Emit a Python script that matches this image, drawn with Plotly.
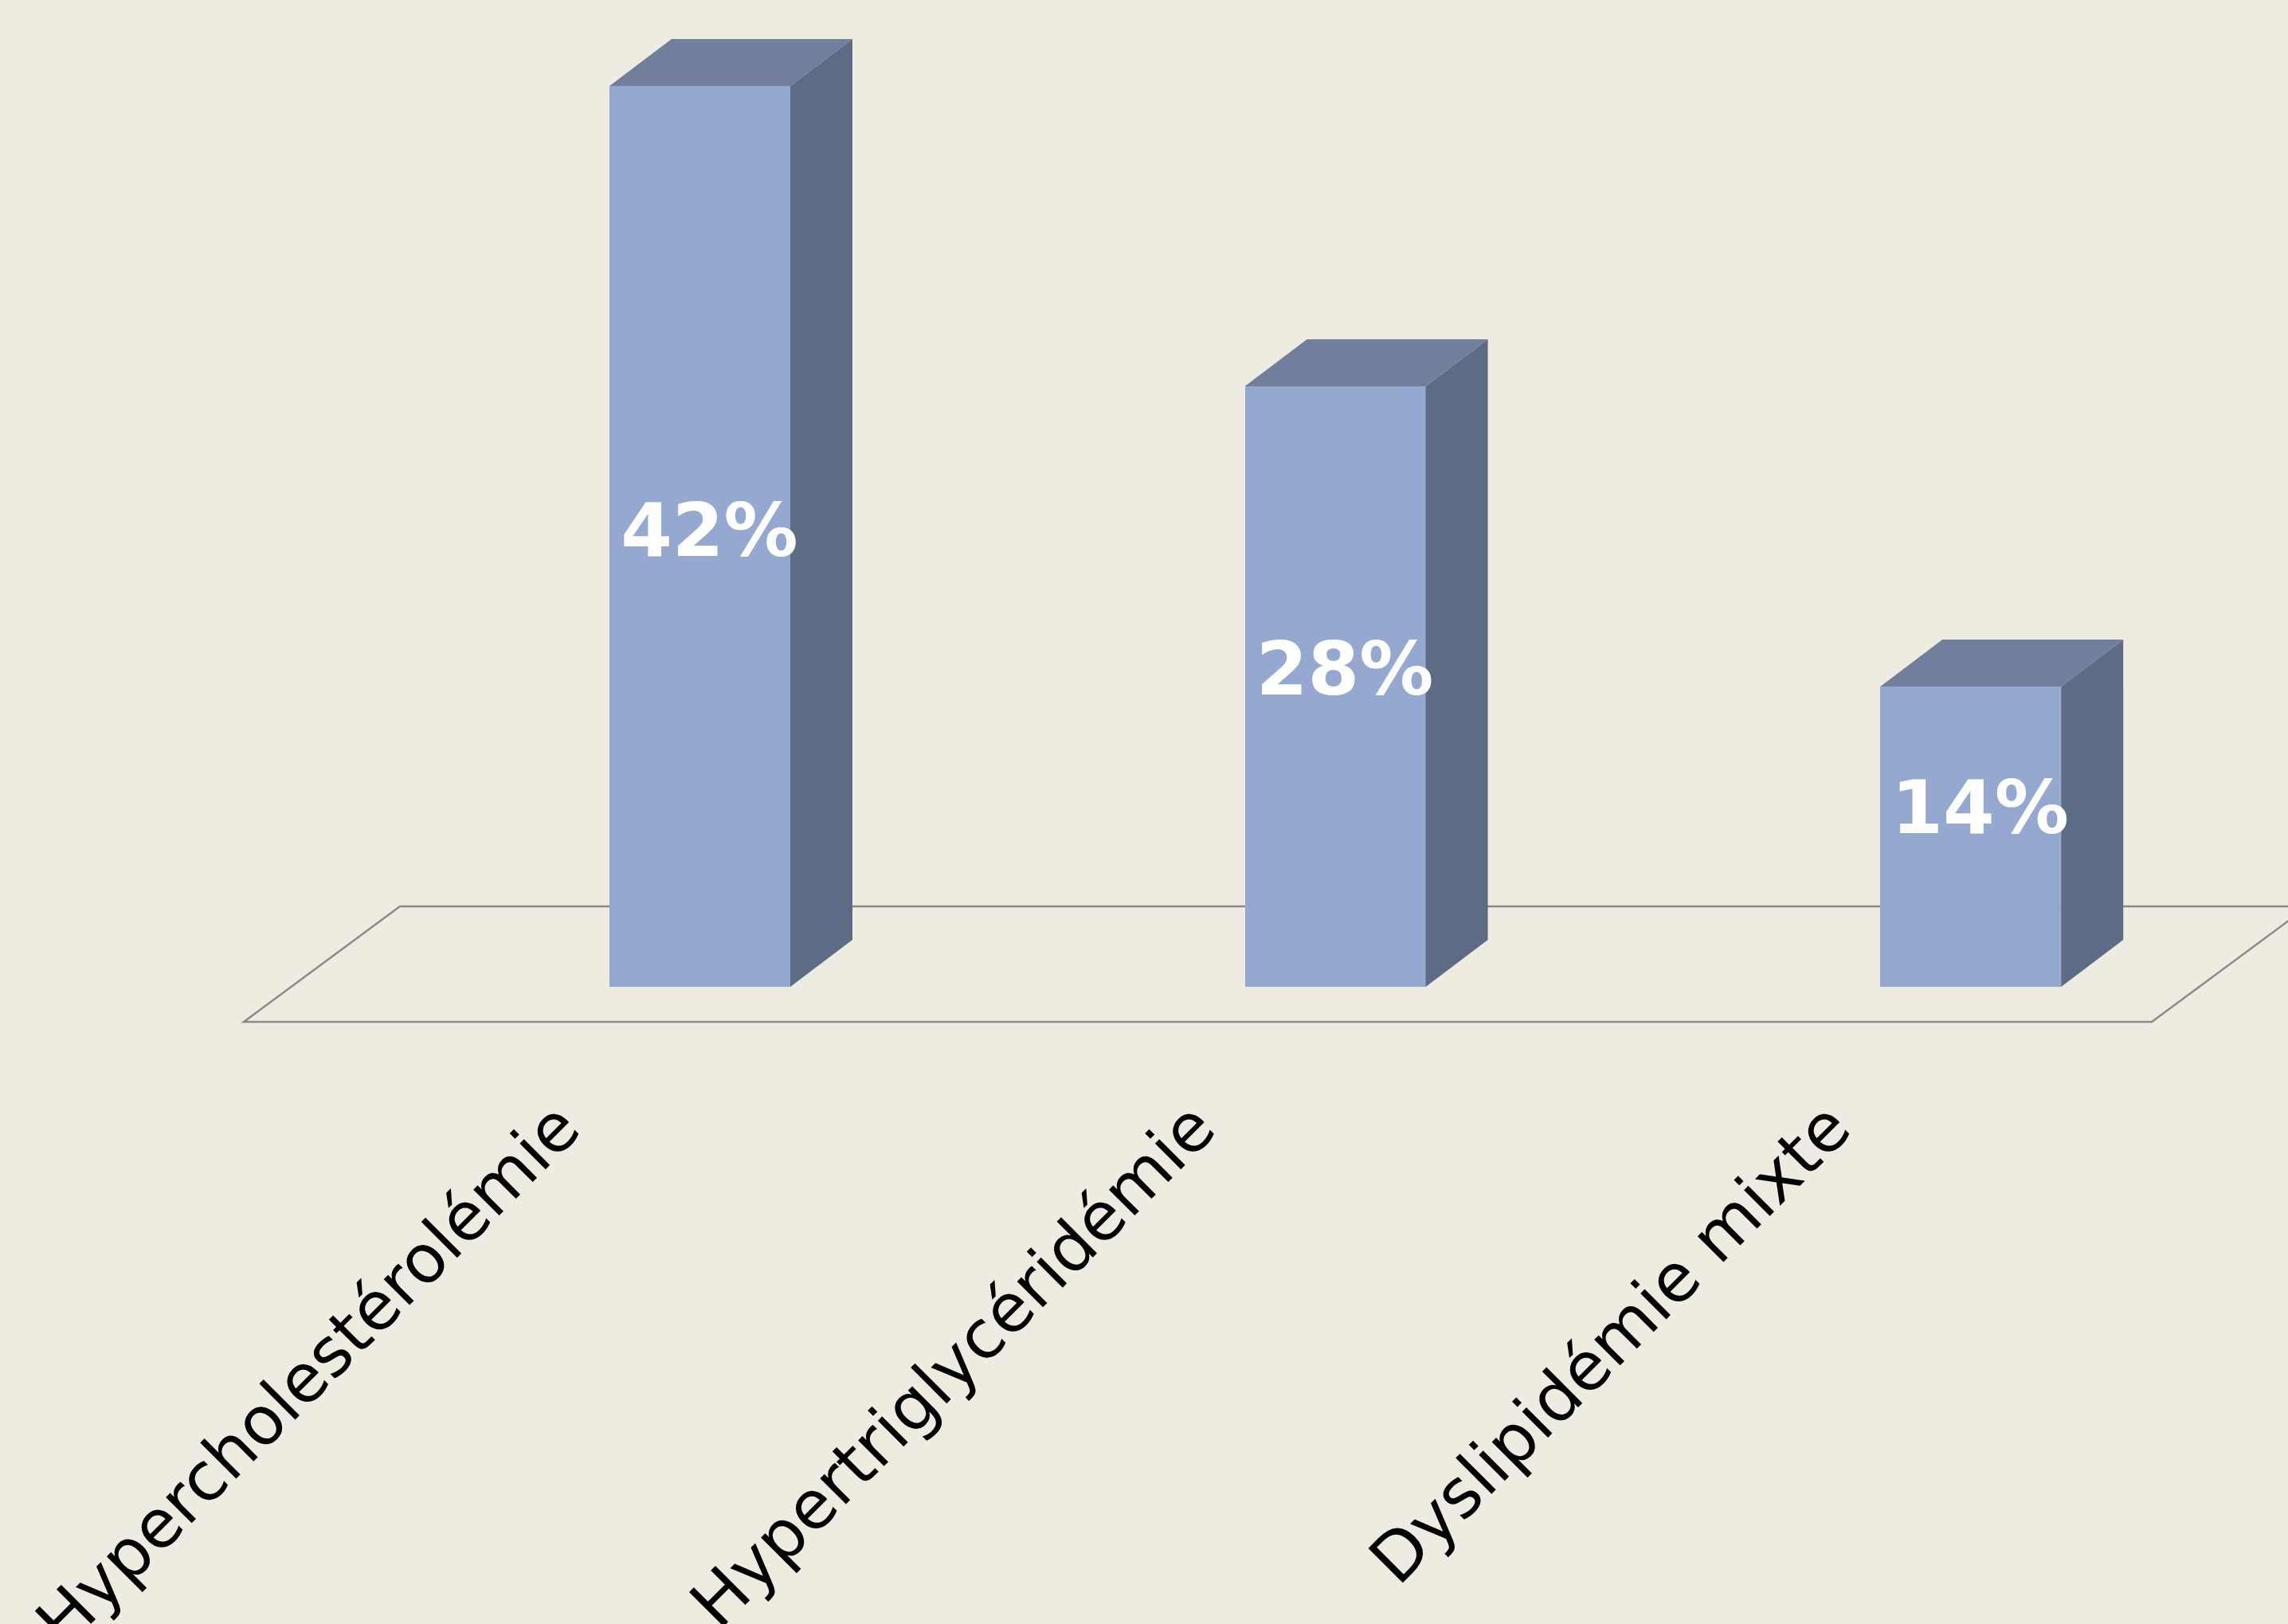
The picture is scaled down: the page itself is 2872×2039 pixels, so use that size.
import numpy as np
import plotly.graph_objects as go

categories = ["Hypercholestérolémie", "Hypertriglycéridémie", "Dyslipidémie mixte"]
values = [42, 28, 14]
labels = ["42%", "28%", "14%"]

BG = "#EEECE1"
FRONT = "#95A9D0"
TOP = "#717F9C"
SIDE = "#5D6B85"
FLOOR = "#8A8A8A"

W, H = 2872, 2039
PX_X = 797.6          # pixels per category step
PX_Y = 26.93          # pixels per percent
ZERO_PX = 1239        # pixel row of value 0 (bar base)
PLOT_BOTTOM = 1290
FIRST_PX = 878.5      # pixel column of first category

bar_w = 227 / PX_X
dx = 78 / PX_X        # bar depth in x units
dy = 59 / PX_Y        # bar depth in y units

x = np.arange(len(categories))

xmin = -FIRST_PX / PX_X
xmax = xmin + W / PX_X
ymin = (ZERO_PX - PLOT_BOTTOM) / PX_Y
ymax = ymin + PLOT_BOTTOM / PX_Y

fig = go.Figure()

# front faces
fig.add_trace(go.Bar(x=x, y=values, width=bar_w, marker=dict(color=FRONT, line=dict(width=0)),
                     hoverinfo="skip", showlegend=False))

# side and top faces
for xi, v in zip(x, values):
    l, r = xi - bar_w / 2, xi + bar_w / 2
    fig.add_trace(go.Scatter(x=[r, r + dx, r + dx, r, r], y=[0, dy, v + dy, v, 0],
                             fill="toself", fillcolor=SIDE, mode="lines", line=dict(width=0, color=SIDE),
                             hoverinfo="skip", showlegend=False))
    fig.add_trace(go.Scatter(x=[l, r, r + dx, l + dx, l], y=[v, v, v + dy, v + dy, v],
                             fill="toself", fillcolor=TOP, mode="lines", line=dict(width=0, color=TOP),
                             hoverinfo="skip", showlegend=False))

# data labels
fig.add_trace(go.Scatter(x=x + 0.015, y=[0.4625 * v + 1.54 for v in values], text=labels, mode="text",
                         textposition="middle center",
                         textfont=dict(family="DejaVu Sans", size=93, color="white", weight="bold"),
                         hoverinfo="skip", showlegend=False))

# floor (drawn below the bars)
fy0 = (ZERO_PX - 1283) / PX_Y
fy1 = (ZERO_PX - 1138) / PX_Y
fxl0 = (306 - FIRST_PX) / PX_X
fxr0 = (2701 - FIRST_PX) / PX_X
fdx = 196 / PX_X
path = (f"M {fxl0},{fy0} L {fxr0},{fy0} L {fxr0 + fdx},{fy1} "
        f"L {fxl0 + fdx},{fy1} Z")
fig.add_shape(type="path", path=path, xref="x", yref="y", layer="below",
              line=dict(color=FLOOR, width=2.5), fillcolor="rgba(0,0,0,0)")

fig.update_layout(
    width=W, height=H,
    paper_bgcolor=BG, plot_bgcolor=BG,
    margin=dict(l=0, r=0, t=0, b=H - PLOT_BOTTOM, pad=0),
    showlegend=False,
    xaxis=dict(range=[xmin, xmax], tickvals=x, ticktext=categories, tickangle=-45,
               tickfont=dict(family="DejaVu Sans", size=84, color="black"),
               showgrid=False, zeroline=False, showline=False, ticks="",
               ticklabelshift=-176, ticklabelstandoff=58, automargin=False, fixedrange=True),
    yaxis=dict(range=[ymin, ymax], visible=False, showgrid=False, zeroline=False,
               automargin=False, fixedrange=True),
    bargap=0,
)

fig.write_html("out.html", config={"displayModeBar": False, "staticPlot": True},
               post_script="document.body.style.margin='0px';document.body.style.overflow='hidden';")
